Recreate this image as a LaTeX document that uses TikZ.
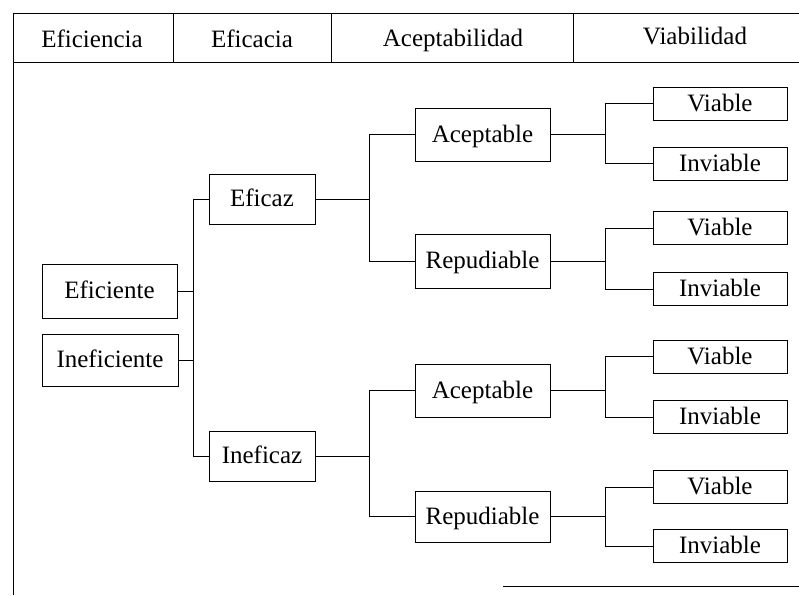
\documentclass[tikz,border=0pt]{standalone}
\usepackage{fontspec}
\setmainfont{Liberation Serif}
\begin{document}
\begin{tikzpicture}[x=1pt,y=-1pt,line width=0.8pt,
  txt/.style={font=\fontsize{25}{29}\selectfont},
  box/.style={txt,draw,inner sep=0pt,anchor=center,text height=19pt,text depth=4pt},
  firstbox/.style={box,minimum width=135pt,minimum height=53pt},
  secondbox/.style={box,minimum width=106pt,minimum height=50pt},
  thirdbox/.style={box,minimum width=135pt,minimum height=53pt},
  leafbox/.style={box,minimum width=134pt,minimum height=33pt},
  head/.style={txt,anchor=base,inner sep=0pt},
  rule/.style={draw,line width=0.8pt}]
\useasboundingbox (0,0) rectangle (799,595);

% frame and header row
\draw[rule] (13,13) -- (799,13);
\draw[rule] (13,62) -- (799,62);
\draw[rule] (13,13) -- (13,595);
\draw[rule] (173,13) -- (173,62);
\draw[rule] (331,13) -- (331,62);
\draw[rule] (573,13) -- (573,62);
\draw[rule] (503,586) -- (799,586);

\node[head] (h1) at (92,47) {Eficiencia};
\node[head] (h2) at (252,47) {Eficacia};
\node[head] (h3) at (453,46) {Aceptabilidad};
\node[head] (h4) at (695,44) {Viabilidad};

% first column
\node[firstbox,minimum height=54pt] (efi) at (109.5,291) {Eficiente};
\node[firstbox,minimum width=136pt,minimum height=52pt] (inefi) at (110,360) {Ineficiente};

% second column
\node[secondbox] (eficaz) at (262,199) {Eficaz};
\node[secondbox] (ineficaz) at (262,456) {Ineficaz};

% third column
\node[thirdbox] (acA) at (482.5,134.5) {Aceptable};
\node[thirdbox,minimum height=54pt] (repA) at (482.5,261) {Repudiable};
\node[thirdbox] (acB) at (482.5,390.5) {Aceptable};
\node[thirdbox,minimum height=51pt] (repB) at (482.5,516.5) {Repudiable};

% fourth column
\node[leafbox] (v1) at (720,103.5) {Viable};
\node[leafbox] (n1) at (720,163.5) {Inviable};
\node[leafbox] (v2) at (720,228) {Viable};
\node[leafbox] (n2) at (720,289) {Inviable};
\node[leafbox] (v3) at (720,356.5) {Viable};
\node[leafbox] (n3) at (720,417) {Inviable};
\node[leafbox] (v4) at (720,487) {Viable};
\node[leafbox] (n4) at (720,546) {Inviable};

% x positions of the vertical branch lines
\coordinate (ja) at (193,0);
\coordinate (jb) at (369,0);
\coordinate (jc) at (605,0);

% first split
\draw (eficaz.west) -- (eficaz.west -| ja) -- (ineficaz.west -| ja) -- (ineficaz.west);
\draw (efi.east) -- (efi.east -| ja);
\draw (inefi.east) -- (inefi.east -| ja);

% second split
\draw (acA.west) -- (acA.west -| jb) -- (repA.west -| jb) -- (repA.west);
\draw (eficaz.east) -- (eficaz.east -| jb);
\draw (acB.west) -- (acB.west -| jb) -- (repB.west -| jb) -- (repB.west);
\draw (ineficaz.east) -- (ineficaz.east -| jb);

% third split
\draw (v1.west) -- (v1.west -| jc) -- (n1.west -| jc) -- (n1.west);
\draw (acA.east) -- (acA.east -| jc);
\draw (v2.west) -- (v2.west -| jc) -- (n2.west -| jc) -- (n2.west);
\draw (repA.east) -- (repA.east -| jc);
\draw (v3.west) -- (v3.west -| jc) -- (n3.west -| jc) -- (n3.west);
\draw (acB.east) -- (acB.east -| jc);
\draw (v4.west) -- (v4.west -| jc) -- (n4.west -| jc) -- (n4.west);
\draw (repB.east) -- (repB.east -| jc);
\end{tikzpicture}
\end{document}
